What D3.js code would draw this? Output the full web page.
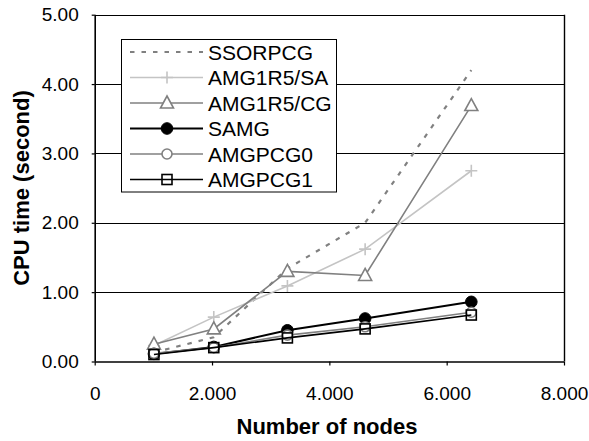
<!DOCTYPE html>
<html>
<head>
<meta charset="utf-8">
<script src="https://cdn.jsdelivr.net/npm/d3@7"></script>
<style>
  html, body { margin: 0; padding: 0; background: #fff; }
  svg { display: block; font-family: "Liberation Sans", Arial, sans-serif; }
</style>
</head>
<body>
<svg id="chart" width="589" height="441"></svg>
<script>
// ---- data ----
const nodes = [1010, 2030, 3285, 4610, 6420];
const seriesNames = ["SSORPCG", "AMG1R5/SA", "AMG1R5/CG", "SAMG", "AMGPCG0", "AMGPCG1"];
const ssorpcg  = [0.13, 0.35, 1.34, 2.00, 4.20];
const amg1r5sa = [0.23, 0.64, 1.09, 1.62, 2.75];
const amg1r5cg = [0.25, 0.47, 1.30, 1.24, 3.69];
const samg     = [0.11, 0.21, 0.45, 0.62, 0.86];
const amgpcg0  = [0.12, 0.20, 0.38, 0.50, 0.71];
const amgpcg1  = [0.10, 0.20, 0.34, 0.47, 0.67];
const xTicks = [0, 2000, 4000, 6000, 8000];
const yTicks = [0, 1, 2, 3, 4, 5];
const xTitle = "Number of nodes";
const yTitle = "CPU time (second)";

const styles = [
  { color: "#808080", width: 2.2, dash: "4.5,7", marker: "none" },
  { color: "#c4c4c4", width: 1.6, dash: null, marker: "plus" },
  { color: "#808080", width: 1.6, dash: null, marker: "triangle" },
  { color: "#000000", width: 2, dash: null, marker: "dot" },
  { color: "#808080", width: 1.6, dash: null, marker: "circle" },
  { color: "#000000", width: 1.6, dash: null, marker: "square" }
];
const values = [ssorpcg, amg1r5sa, amg1r5cg, samg, amgpcg0, amgpcg1];

// ---- layout ----
const svg = d3.select("#chart");
const L = 94.7, R = 564, T = 14.7, B = 361.5;
const x = d3.scaleLinear().domain([0, 8000]).range([L, R]);
const y = d3.scaleLinear().domain([0, 5]).range([B, T]);

const loc = d3.formatLocale({ decimal: ",", thousands: ".", grouping: [3], currency: ["", ""] });
const fx = loc.format(",");
const fy = d3.format(".2f");

// gridlines
svg.append("g").selectAll("line").data(yTicks.filter(v => v > 0 && v < 5)).join("line")
  .attr("x1", L).attr("x2", R)
  .attr("y1", d => Math.round(y(d)) + 0.5).attr("y2", d => Math.round(y(d)) + 0.5)
  .attr("stroke", "#000").attr("stroke-width", 1);

// border top & right
svg.append("line").attr("x1", L).attr("x2", R).attr("y1", Math.round(T) + 0.5).attr("y2", Math.round(T) + 0.5)
  .attr("stroke", "#000").attr("stroke-width", 1.2);
svg.append("line").attr("x1", Math.round(R) + 0.5).attr("x2", Math.round(R) + 0.5).attr("y1", T).attr("y2", B)
  .attr("stroke", "#000").attr("stroke-width", 1.4);

// axes
const yAxis = svg.append("g").attr("transform", `translate(${L},0)`)
  .call(d3.axisLeft(y).tickValues(yTicks).tickFormat(fy).tickSize(3).tickPadding(13));
const xAxis = svg.append("g").attr("transform", `translate(0,${B})`)
  .call(d3.axisBottom(x).tickValues(xTicks).tickFormat(fx).tickSize(4).tickPadding(21));
[yAxis, xAxis].forEach(g => {
  g.select(".domain").attr("stroke", "#000").attr("stroke-width", 1.6);
  g.selectAll(".tick line").attr("stroke", "#000").attr("stroke-width", 1.2);
  g.selectAll("text").attr("font-size", "19px").attr("fill", "#000")
    .attr("font-family", "Liberation Sans, Arial, sans-serif");
});
xAxis.select(".domain").attr("d", `M${L},0.5H${R}`);
yAxis.select(".domain").attr("d", `M0.5,${B}V${T}`);

// titles
svg.append("text").attr("x", 327).attr("y", 434).attr("text-anchor", "middle")
  .attr("font-size", "22px").attr("font-weight", "bold").text(xTitle);
svg.append("text").attr("transform", `translate(29,188) rotate(-90)`).attr("text-anchor", "middle")
  .attr("font-size", "22px").attr("font-weight", "bold").text(yTitle);

// markers
function drawMarker(g, type, cx, cy, color) {
  if (type === "plus") {
    g.append("path").attr("d", `M${cx - 6},${cy}H${cx + 6}M${cx},${cy - 6}V${cy + 6}`)
      .attr("stroke", color).attr("stroke-width", 1.6).attr("fill", "none");
  } else if (type === "triangle") {
    g.append("path").attr("d", `M${cx},${cy - 7}L${cx + 6.5},${cy + 5}L${cx - 6.5},${cy + 5}Z`)
      .attr("stroke", color).attr("stroke-width", 1.6).attr("fill", "#fff");
  } else if (type === "dot") {
    g.append("circle").attr("cx", cx).attr("cy", cy).attr("r", 5.8)
      .attr("fill", "#000").attr("stroke", "#000").attr("stroke-width", 1);
  } else if (type === "circle") {
    g.append("circle").attr("cx", cx).attr("cy", cy).attr("r", 5)
      .attr("fill", "#fff").attr("stroke", color).attr("stroke-width", 1.6);
  } else if (type === "square") {
    g.append("rect").attr("x", cx - 5).attr("y", cy - 5).attr("width", 10).attr("height", 10)
      .attr("fill", "none").attr("stroke", color).attr("stroke-width", 1.6);
  }
}

// series
const line = d3.line().x((d, i) => x(nodes[i])).y(d => y(d));
values.forEach((vals, si) => {
  const st = styles[si];
  const g = svg.append("g");
  g.append("path").datum(vals).attr("d", line).attr("fill", "none")
    .attr("stroke", st.color).attr("stroke-width", st.width)
    .attr("stroke-dasharray", st.dash);
  vals.forEach((v, i) => drawMarker(g, st.marker, x(nodes[i]), y(v), st.color));
});

// legend
const lg = svg.append("g");
lg.append("rect").attr("x", 121.5).attr("y", 39.5).attr("width", 215).attr("height", 152.5)
  .attr("fill", "#fff").attr("stroke", "#000").attr("stroke-width", 1);
seriesNames.forEach((name, i) => {
  const st = styles[i];
  const cy = 52 + i * 25.5;
  lg.append("line").attr("x1", 130).attr("x2", 203).attr("y1", cy).attr("y2", cy)
    .attr("stroke", st.color).attr("stroke-width", st.width).attr("stroke-dasharray", st.dash);
  drawMarker(lg, st.marker, 167, cy, st.color);
  lg.append("text").attr("x", 208).attr("y", cy).attr("dy", "0.36em")
    .attr("font-size", "21px").attr("fill", "#000").text(name);
});
</script>
</body>
</html>
